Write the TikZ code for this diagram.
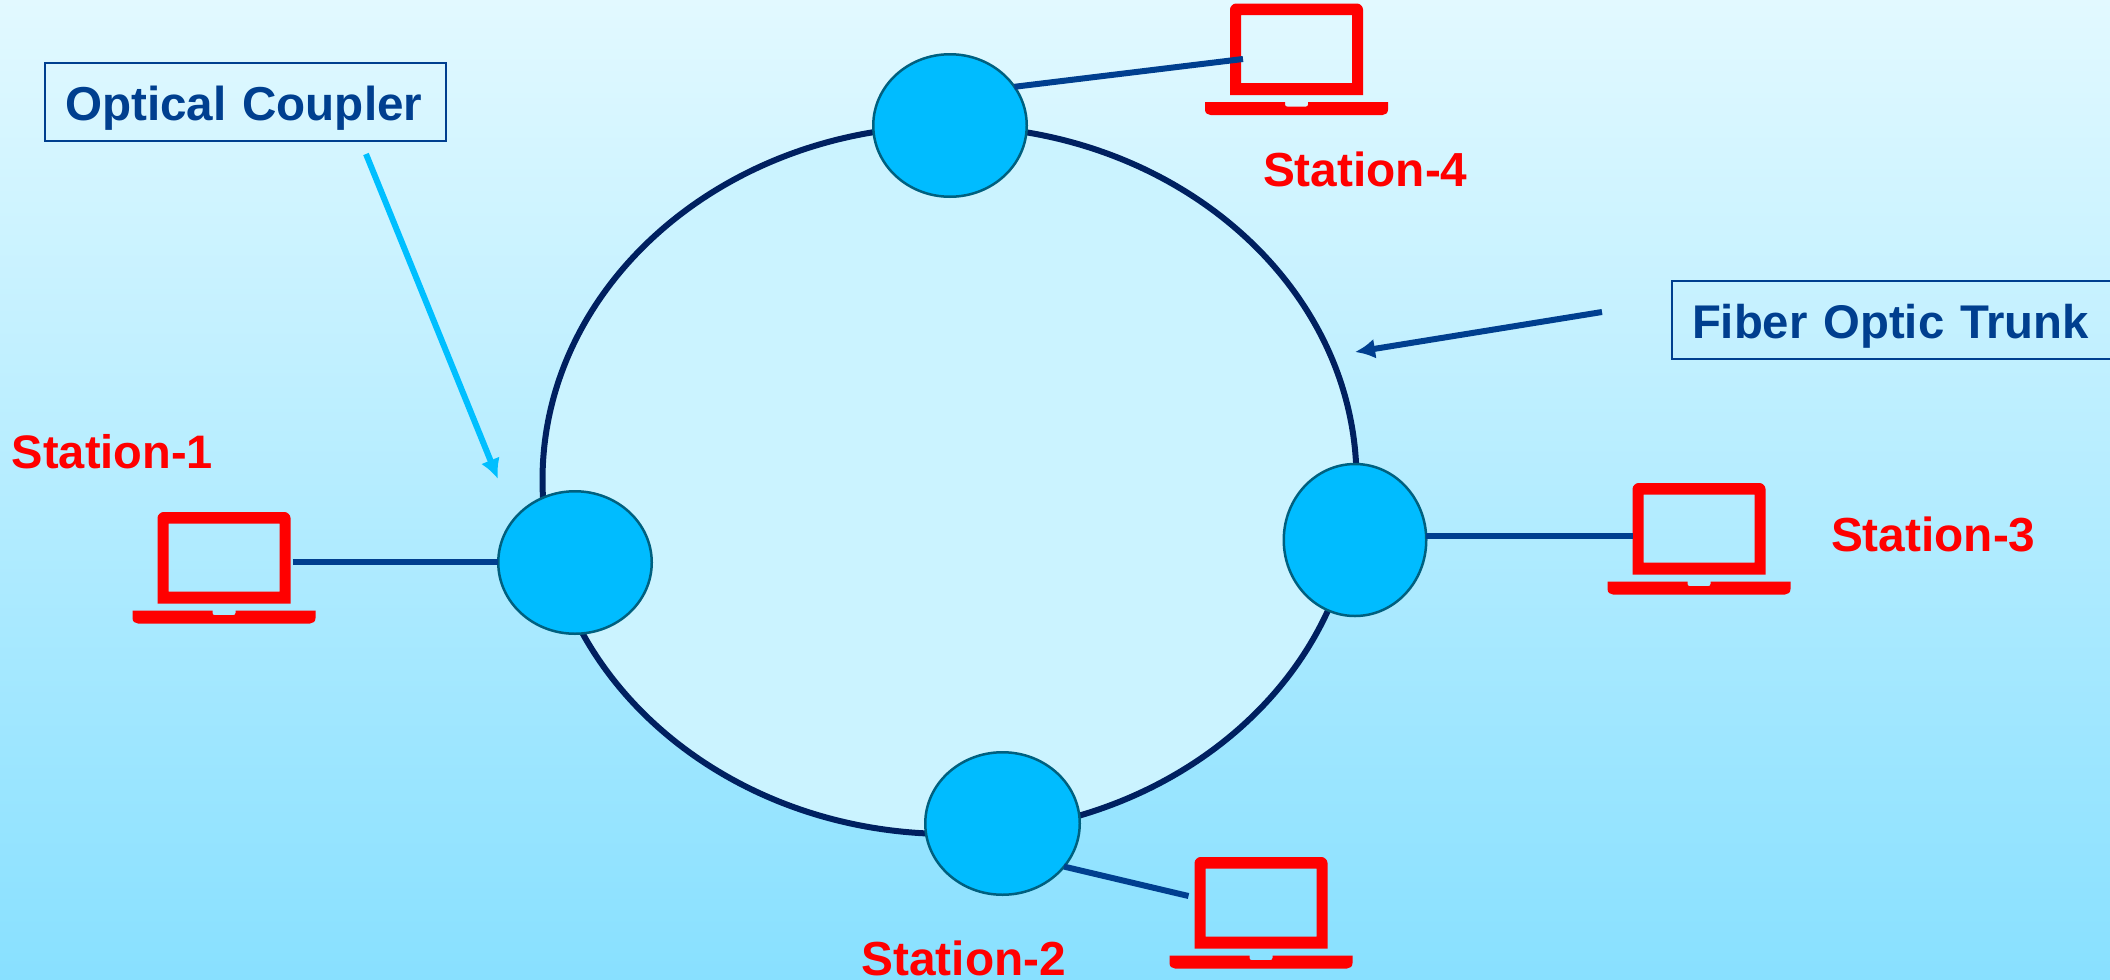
\documentclass[tikz,border=0pt]{standalone}
\usepackage{fontspec}
\setmainfont{Liberation Sans}
\usetikzlibrary{shapes.geometric,arrows.meta,calc}
\definecolor{bgtop}{HTML}{E2F9FF}
\definecolor{bgbot}{HTML}{88E0FF}
\definecolor{ringin}{HTML}{CBF3FF}
\definecolor{ringline}{HTML}{002060}
\definecolor{coupfill}{HTML}{00BCFF}
\definecolor{coupline}{HTML}{00607F}
\definecolor{linkblue}{HTML}{003F8F}
\definecolor{arrowcyan}{HTML}{00BFFF}
\tikzset{
  coupler/.style={ellipse,draw=coupline,line width=2.5pt,fill=coupfill,inner sep=0pt,outer sep=0pt},
  link/.style={draw=linkblue,line width=6pt},
  callout/.style={line width=6pt,-{Latex[length=20pt,width=20pt]}},
  labelbox/.style={rectangle,draw=linkblue,line width=2pt,inner sep=0pt,outer sep=0pt,text=linkblue,anchor=west,align=left,text height=57pt,text depth=21pt},
  stationtext/.style={inner sep=0pt,outer sep=0pt,anchor=base west,text=red,font=\fontsize{47.8}{50}\selectfont\bfseries},
  lapbody/.style={rectangle,inner sep=0pt,outer sep=0pt,minimum width=133pt,minimum height=91.5pt}
}
\newcommand{\lapdraw}[3]{%
  \node[lapbody] (#1) at (#2,#3+45.75) {};
  \begin{scope}[shift={(#2,#3)}]
    \fill[red,even odd rule] (-66.5,91.5) -- (-66.5,6) .. controls (-66.5,3) and (-63.5,0) .. (-60.5,0)
      -- (60.5,0) .. controls (63.5,0) and (66.5,3) .. (66.5,6) -- (66.5,91.5) -- cycle
      (-55.5,11.5) rectangle (55.5,79.5);
    \fill[red] (-91.5,98.5) -- (-11.5,98.5) -- (-11.5,101) .. controls (-11.5,102.5) and (-10.5,103) .. (-9.5,103)
      -- (9.5,103) .. controls (10.5,103) and (11.5,102.5) .. (11.5,101) -- (11.5,98.5) -- (91.5,98.5)
      -- (91.5,106) .. controls (91.5,109.5) and (89,111.5) .. (86,111.5)
      -- (-86,111.5) .. controls (-89,111.5) and (-91.5,109.5) .. (-91.5,106) -- cycle;
  \end{scope}
}
\begin{document}
\begin{tikzpicture}[x=1pt,y=-1pt]
\useasboundingbox (0,0) rectangle (2110,980);
\fill[top color=bgtop,bottom color=bgbot,draw=none] (0,0) rectangle (2110,980);
% ring
\node[ellipse,draw=ringline,fill=ringin,line width=6pt,minimum width=814pt,minimum height=708pt,inner sep=0pt,outer sep=0pt] (ring) at (949.5,480) {};
% laptops
\lapdraw{l1}{224}{512}
\lapdraw{l2}{1261}{857}
\lapdraw{l3}{1699}{483}
\lapdraw{l4}{1296.5}{3.5}
% couplers
\node[coupler,minimum width=153.5pt,minimum height=142.5pt] (e1) at (575,562.5) {};
\node[coupler,minimum width=154.5pt,minimum height=142.5pt] (e2) at (1002.5,823.5) {};
\node[coupler,minimum width=142.5pt,minimum height=152pt] (e3) at (1355,540) {};
\node[coupler,minimum width=153.5pt,minimum height=142.5pt] (e4) at (950,125.5) {};
% free ends
\coordinate (c2) at (1188.5,896);
\coordinate (c4) at (1243,59);
\coordinate (a1s) at (366,154);
\coordinate (a1t) at (498,479);
\coordinate (a2s) at (1602,312);
\coordinate (a2t) at (1355,352);
% station links
\draw[link] ($(l1.-4)+(2,0)$) -- (l1.-4 -| e1.west);
\draw[link] (e2.-35) -- (c2);
\draw[link] (l3.186) -- (l3.186 -| e3.east);
\draw[link] (e4.31) -- (c4);
% labels
\node[labelbox,text width=401pt,font=\fontsize{47.6}{50}\selectfont\bfseries] (optbox) at (44.7,102) {\hspace{20.5pt}Optical Coupler};
\node[labelbox,text width=446pt,font=\fontsize{47.3}{50}\selectfont\bfseries] (fibbox) at (1672,320) {\hspace{20pt}Fiber Optic Trunk};
\draw[callout,arrowcyan] (a1s) -- (a1t);
\draw[callout,linkblue] (a2s) -- (a2t);
\node[stationtext,font=\fontsize{47}{50}\selectfont\bfseries] (s1) at (12,468) {Station-1};
\node[stationtext] (s2) at (861.5,975) {Station-2};
\node[stationtext] (s3) at (1831,551) {Station-3};
\node[stationtext] (s4) at (1263,186) {Station-4};
\end{tikzpicture}
\end{document}
